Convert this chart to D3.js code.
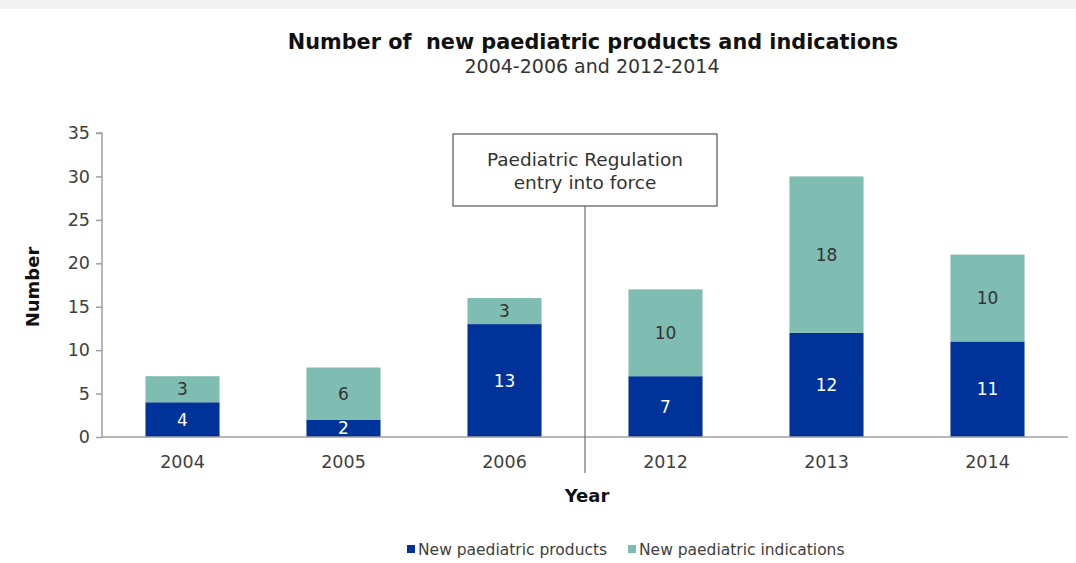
<!DOCTYPE html>
<html>
<head>
<meta charset="utf-8">
<script src="https://cdn.jsdelivr.net/npm/d3@7"></script>
<style>
  html, body { margin: 0; padding: 0; background: #fff; }
  svg { display: block; font-family: "DejaVu Sans", Verdana, sans-serif; }
</style>
</head>
<body>
<svg id="chart" width="1076" height="563"></svg>
<script>
// Yearly counts of new paediatric products and indications
const years = ["2004", "2005", "2006", "2012", "2013", "2014"];
const products = [4, 2, 13, 7, 12, 11];
const indications = [3, 6, 3, 10, 18, 10];
const yTicks = [0, 5, 10, 15, 20, 25, 30, 35];
const seriesNames = ["New paediatric products", "New paediatric indications"];
const seriesColors = ["#003399", "#7fbcb1"];

const svg = d3.select("#chart");

// light header strip
svg.append("rect").attr("x", 0).attr("y", 0).attr("width", 1076).attr("height", 9).attr("fill", "#f2f2f2");

const plot = { left: 102, right: 1068, top: 133, bottom: 437 };

const x = d3.scaleBand().domain(years).range([plot.left, plot.right]).paddingInner(0.54).paddingOuter(0.27);
const y = d3.scaleLinear().domain([0, 35]).range([plot.bottom, plot.top]);

const rows = years.map((yr, i) => ({ year: yr, products: products[i], indications: indications[i] }));
const stacked = d3.stack().keys(["products", "indications"])(rows);

// titles
svg.append("text").attr("x", 593).attr("y", 49).attr("text-anchor", "middle")
  .attr("font-size", 20.8).attr("font-weight", "bold").attr("fill", "#111")
  .text("Number of \u00a0new paediatric products and indications");
svg.append("text").attr("x", 592).attr("y", 73).attr("text-anchor", "middle")
  .attr("font-size", 19).attr("fill", "#333")
  .text("2004-2006 and 2012-2014");

// bars
stacked.forEach((layer, li) => {
  svg.append("g").selectAll("rect").data(layer).join("rect")
    .attr("x", d => x(d.data.year))
    .attr("width", x.bandwidth())
    .attr("y", d => y(d[1]))
    .attr("height", d => y(d[0]) - y(d[1]))
    .attr("fill", seriesColors[li]);
  svg.append("g").selectAll("text").data(layer).join("text")
    .attr("x", d => x(d.data.year) + x.bandwidth() / 2)
    .attr("y", d => (y(d[0]) + y(d[1])) / 2)
    .attr("dy", "0.36em")
    .attr("text-anchor", "middle")
    .attr("font-size", 17)
    .attr("fill", li === 0 ? "#ffffff" : "#333333")
    .text(d => d[1] - d[0]);
});

// y axis
const yAxis = d3.axisLeft(y).tickValues(yTicks).tickSize(6).tickPadding(6);
const gy = svg.append("g").attr("transform", `translate(${plot.left},0)`).call(yAxis);
gy.select(".domain").attr("stroke", "#a0a0a0").attr("stroke-width", 1.5).attr("d", `M-6,${plot.top}H0V${plot.bottom}`);
gy.selectAll(".tick line").attr("stroke", "#a0a0a0").attr("stroke-width", 1.5);
gy.selectAll(".tick text").attr("font-size", 17.5).attr("fill", "#404040").attr("font-family", "DejaVu Sans, Verdana, sans-serif");

// x axis
const xAxis = d3.axisBottom(x).tickSize(0).tickPadding(19);
const gx = svg.append("g").attr("transform", `translate(0,${plot.bottom})`).call(xAxis);
gx.select(".domain").attr("stroke", "#a0a0a0").attr("stroke-width", 1.5).attr("d", `M${plot.left},0H${plot.right}`);
gx.selectAll(".tick text").attr("font-size", 17.5).attr("fill", "#404040").attr("font-family", "DejaVu Sans, Verdana, sans-serif");

// axis titles
svg.append("text").attr("x", 587).attr("y", 502).attr("text-anchor", "middle")
  .attr("font-size", 18).attr("font-weight", "bold").attr("fill", "#111").text("Year");
svg.append("text").attr("transform", "translate(39,287) rotate(-90)").attr("text-anchor", "middle")
  .attr("font-size", 18).attr("font-weight", "bold").attr("fill", "#111").text("Number");

// regulation marker between 2006 and 2012
const markX = (x("2006") + x.bandwidth() + x("2012")) / 2;
svg.append("line").attr("x1", markX).attr("x2", markX).attr("y1", 206).attr("y2", 473)
  .attr("stroke", "#555").attr("stroke-width", 1);
svg.append("rect").attr("x", 453).attr("y", 134).attr("width", 264).attr("height", 72)
  .attr("fill", "#fff").attr("stroke", "#555").attr("stroke-width", 1.2);
svg.append("text").attr("x", 585).attr("y", 166).attr("text-anchor", "middle")
  .attr("font-size", 18.5).attr("fill", "#333").text("Paediatric Regulation");
svg.append("text").attr("x", 585).attr("y", 189).attr("text-anchor", "middle")
  .attr("font-size", 18.5).attr("fill", "#333").text("entry into force");

// legend
const legendX = [407, 628];
seriesNames.forEach((name, i) => {
  svg.append("rect").attr("x", legendX[i]).attr("y", 545).attr("width", 8).attr("height", 8).attr("fill", seriesColors[i]);
  svg.append("text").attr("x", legendX[i] + 11).attr("y", 549).attr("dy", "0.36em")
    .attr("font-size", 15.5).attr("fill", "#404040").text(name);
});
</script>
</body>
</html>
